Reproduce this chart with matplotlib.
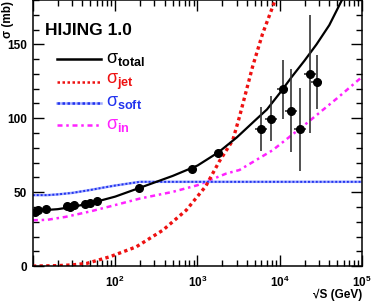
import math

import matplotlib
matplotlib.use("Agg")
import matplotlib.pyplot as plt
from matplotlib.ticker import LogLocator, MultipleLocator, FuncFormatter, NullFormatter

plt.rcParams["font.family"] = ["Liberation Sans", "DejaVu Sans"]
plt.rcParams["mathtext.fontset"] = "custom"
plt.rcParams["mathtext.rm"] = "Liberation Sans"
plt.rcParams["mathtext.bf"] = "Liberation Sans:bold"
plt.rcParams["mathtext.it"] = "Liberation Sans"

# curves
tot_x = [10, 15, 20, 30, 50, 100, 200, 500, 1000, 1800, 3000, 5000, 7000, 1e4, 1.4e4, 2e4, 2.8e4, 4e4, 5.7e4]
tot_y = [37.5, 38, 38.5, 40, 42.5, 47, 53, 61, 68, 77, 87, 98.5, 106, 117, 128, 139, 150, 163, 180]

jet_x = [10, 20, 30, 45, 86, 180, 380, 730, 1260, 1850, 2680, 3240, 4680, 6170, 8800]
jet_y = [0, 0.3, 0.8, 1.8, 6.3, 13, 24.3, 37.8, 54, 71, 85, 101, 135, 157, 180]

soft_x = [10, 15, 20, 30, 50, 70, 100, 200, 1e5]
soft_y = [48, 48, 48.5, 49.5, 51.5, 53, 54.5, 57, 57]

in_x = [10, 15, 25, 50, 112, 200, 500, 1000, 2240, 3240, 8200, 21000, 52000, 1e5]
in_y = [31, 31.3, 33.3, 37, 42, 45.7, 50.2, 54.7, 62.6, 65, 78.4, 96.4, 114.4, 128]

# accelerator data
acc_x = [10.6, 11.6, 14.4, 26.3, 28, 31.4, 42.7, 50, 60.8, 196, 863, 1780]
acc_y = [36.7, 37.8, 38.7, 40.5, 39.8, 41.2, 41.9, 42.8, 43.9, 52.9, 66, 76.6]

# cosmic ray data
cr_x = [5900, 7800, 10800, 13700, 17700, 23400, 28000]
cr_y = [92.6, 99.8, 119.6, 105, 92.6, 129.7, 124.5]
cr_err = [15, 15, 20, 28, 28, 40, 18]

RED = "#ee1111"
BLUE = "#2233ee"
LIGHTBLUE = "#a0aaff"
MAGENTA = "#ff22ff"
DOT = (0, (1, 1))
DASHDOT = (0, (2, 1.5, 1, 1.5))

fig = plt.figure(figsize=(3.74, 3.01), dpi=100)
ax = fig.add_axes([0.088, 0.116, 0.88, 0.884])

ax.plot(in_x, in_y, color=MAGENTA, lw=1.8, ls=DASHDOT)
ax.plot(soft_x, soft_y, color=LIGHTBLUE, lw=1.8)
ax.plot(soft_x, soft_y, color=BLUE, lw=1.4, ls=DOT)
ax.plot(jet_x, jet_y, color=RED, lw=2.4, ls=DOT)
ax.plot(tot_x, tot_y, color="black", lw=1.6)

ax.plot(acc_x, acc_y, "o", color="black", ms=5.5)
xlo = [x - x / 1.18 for x in cr_x]
xhi = [x * 1.18 - x for x in cr_x]
ax.errorbar(cr_x, cr_y, yerr=cr_err, xerr=[xlo, xhi], fmt="o", color="black",
            ecolor="#333333", elinewidth=1.2, ms=5.5, capsize=0)

ax.set_xscale("log")
ax.set_xlim(10, 1e5)
ax.set_ylim(0, 180)

ax.xaxis.set_major_locator(LogLocator(base=10, subs=[1.0]))
ax.xaxis.set_minor_locator(LogLocator(base=10, subs=[2, 3, 4, 5, 6, 7, 8, 9]))
ax.xaxis.set_minor_formatter(NullFormatter())
ax.xaxis.set_major_formatter(FuncFormatter(
    lambda v, p: "" if v < 50 else r"$\mathbf{10^{%d}}$" % round(math.log10(v))))
ax.yaxis.set_major_locator(MultipleLocator(50))
ax.yaxis.set_minor_locator(MultipleLocator(10))

ax.tick_params(which="both", direction="in", top=True, right=True, width=1.0)
ax.tick_params(which="major", length=8, labelsize=8.5, pad=4)
ax.tick_params(axis="x", which="major", pad=6)
ax.tick_params(which="minor", length=4)
for lab in ax.get_yticklabels():
    lab.set_fontweight("bold")
for s in ax.spines.values():
    s.set_linewidth(1.1)

fig.text(362 / 374, 1 - 295 / 301, "\u221aS (GeV)", fontsize=8.5, fontweight="bold",
         ha="right", va="center")
fig.text(8 / 374, 1 - 19 / 301, "\u03c3 (mb)", fontsize=8.5, fontweight="bold",
         rotation=90, ha="center", va="center")

ax.text(0.036, 0.885, "HIJING 1.0", transform=ax.transAxes, fontsize=12.5, fontweight="bold",
        va="center", ha="left")

leg_names = ["total", "jet", "soft", "in"]
leg_colors = ["black", RED, BLUE, MAGENTA]
leg_styles = ["-", DOT, DOT, DASHDOT]
leg_rows = [0.777, 0.693, 0.614, 0.530]
for name, c, ls, yy in zip(leg_names, leg_colors, leg_styles, leg_rows):
    if name == "soft":
        ax.plot([0.073, 0.207], [yy, yy], transform=ax.transAxes, color=LIGHTBLUE, lw=1.8)
    ax.plot([0.073, 0.207], [yy, yy], transform=ax.transAxes, color=c, lw=1.8, ls=ls)
    ax.text(0.222, yy, r"$\sigma_{\mathbf{%s}}$" % name, transform=ax.transAxes,
            fontsize=13, color=c, va="center", ha="left")

fig.savefig("out.png", dpi=100)
